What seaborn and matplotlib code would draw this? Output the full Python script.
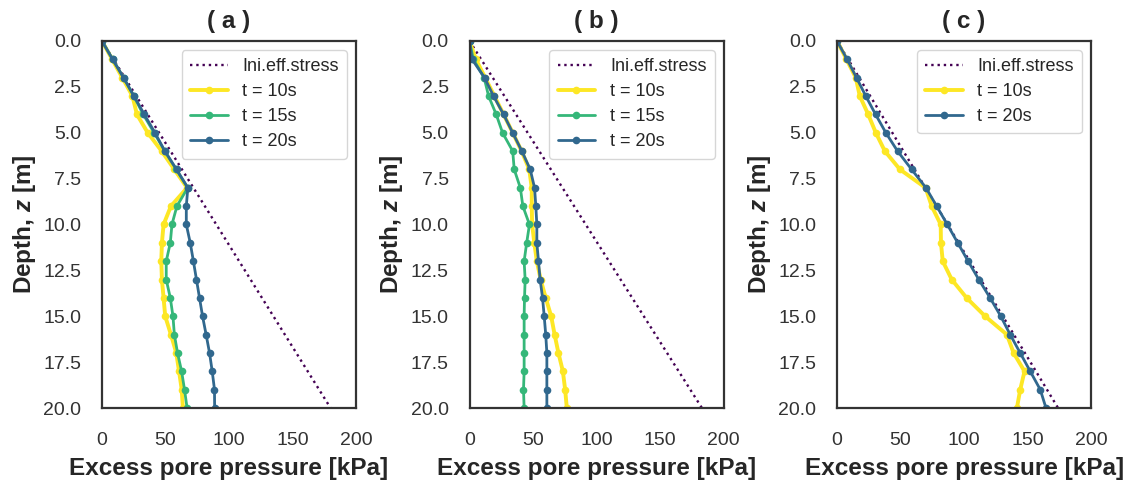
import seaborn as sns
import matplotlib
matplotlib.use("Agg")
import matplotlib.pyplot as plt
import pandas as pd

# depth of the sampling points [m]
depth = [0, 1, 2, 3, 4, 5, 6, 7, 8, 9, 10, 11, 12, 13, 14, 15, 16, 17, 18, 19, 20]

# panel (a)
a_t10 = [0, 8, 16, 24, 27.5, 36, 47, 57, 67, 54.3, 48.5, 47.2, 46.7, 47.2, 48.5, 49.8, 54.3, 58.5, 60.7, 62.8, 63.7]
a_t15 = [0, 8.4, 17, 25, 32.5, 41, 49.5, 58.5, 67.5, 59, 55.1, 53.8, 50.6, 50.6, 53.8, 55.9, 57, 59.5, 62.7, 65, 67]
a_t20 = [0, 8.4, 17, 25.2, 33.3, 41.7, 49.5, 58.7, 67.6, 66.4, 66.4, 69.5, 72, 74.4, 76.8, 79.2, 82, 84.7, 86.8, 88.6, 88.7]

# panel (b)
b_t10 = [0, 5, 12.3, 19.6, 26.8, 34, 41, 47, 49, 49, 49.3, 51, 53, 56, 60, 64.3, 67, 70, 73.5, 75.3, 76.6]
b_t15 = [0, 3, 11.5, 15, 21, 26, 34, 35.2, 40, 42, 47.2, 45, 43, 43.8, 43.3, 43, 43, 43, 43, 42.5, 43]
b_t20 = [0, 2, 11.8, 18.9, 26.8, 34, 41.2, 47.8, 51.2, 52.2, 53, 53, 54.3, 55.6, 57.5, 58.8, 60, 60.9, 60.9, 60.9, 60.9]

# panel (c)
c_t10 = [0, 7.4, 14.7, 17.9, 24.5, 30.5, 37.6, 49.5, 69.7, 74.5, 81.6, 81.8, 83.2, 90.3, 102, 116.6, 133.7, 139, 147.6, 144.2, 141.6]
c_t20 = [0, 7.9, 15.3, 22.6, 30.3, 38.4, 47.6, 58.7, 70, 78.4, 86.8, 95, 103.2, 111.6, 120.5, 128.9, 136.3, 144.2, 152.1, 160, 164.5]

# initial effective stress lines (end points)
stress_depth = [0, 20]
a_stress = [0, 180]
b_stress = [0, 183]
c_stress = [0, 174]

titles = ["( a )", "( b )", "( c )"]
x_ticks = [0, 50, 100, 150, 200]
y_ticks = [0.0, 2.5, 5.0, 7.5, 10.0, 12.5, 15.0, 17.5, 20.0]

sns.set_theme(style="white")
plt.rcParams["font.family"] = ["Liberation Sans", "DejaVu Sans"]
plt.rcParams["mathtext.fontset"] = "custom"
plt.rcParams["mathtext.it"] = "Liberation Sans:bold:italic"
plt.rcParams["mathtext.rm"] = "Liberation Sans:bold"

# viridis end/quarter points
c_stress_col = "#440154"
c20 = "#31688e"
c15 = "#35b779"
c10 = "#fde725"

panels = [
    (a_stress, [("t = 10s", a_t10, c10, 2.8), ("t = 15s", a_t15, c15, 2.0), ("t = 20s", a_t20, c20, 2.0)]),
    (b_stress, [("t = 10s", b_t10, c10, 2.8), ("t = 15s", b_t15, c15, 2.0), ("t = 20s", b_t20, c20, 2.0)]),
    (c_stress, [("t = 10s", c_t10, c10, 2.8), ("t = 20s", c_t20, c20, 2.0)]),
]

fig, axes = plt.subplots(1, 3, figsize=(11.33, 4.82), dpi=100)
fig.subplots_adjust(left=0.090, right=0.963, bottom=0.1535, top=0.915, wspace=0.447)

for ax, title, (stress, series) in zip(axes, titles, panels):
    stress_df = pd.DataFrame({"p": stress, "z": stress_depth})
    sns.lineplot(data=stress_df, x="p", y="z", orient="y", ax=ax, color=c_stress_col,
                 linestyle=":", linewidth=1.7, label="Ini.eff.stress")
    for label, values, color, lw in series:
        df = pd.DataFrame({"p": values, "z": depth})
        sns.lineplot(data=df, x="p", y="z", orient="y", estimator=None, ax=ax, color=color,
                     linewidth=lw, marker="o", markersize=5.5, markeredgewidth=0, label=label)

    ax.set_xlim(0, 200)
    ax.set_ylim(20, 0)
    ax.set_xticks(x_ticks)
    ax.set_yticks(y_ticks)
    ax.tick_params(axis="x", labelsize=14, pad=11, colors="#333333")
    ax.tick_params(axis="y", labelsize=14, pad=9, colors="#333333")
    for spine in ax.spines.values():
        spine.set_color("#333333")
        spine.set_linewidth(1.6)

    ax.set_title(title, fontsize=17.5, fontweight="bold", pad=9)
    ax.set_xlabel("Excess pore pressure [kPa]", fontsize=17.5, fontweight="bold", labelpad=6)
    ax.set_ylabel(r"Depth, $\mathit{z}$ [m]", fontsize=17.5, fontweight="bold", labelpad=4)
    ax.legend(loc="upper right", fontsize=13, frameon=True, handlelength=2.1,
              labelspacing=0.45, borderpad=0.45)

fig.savefig("out.png", dpi=100)
